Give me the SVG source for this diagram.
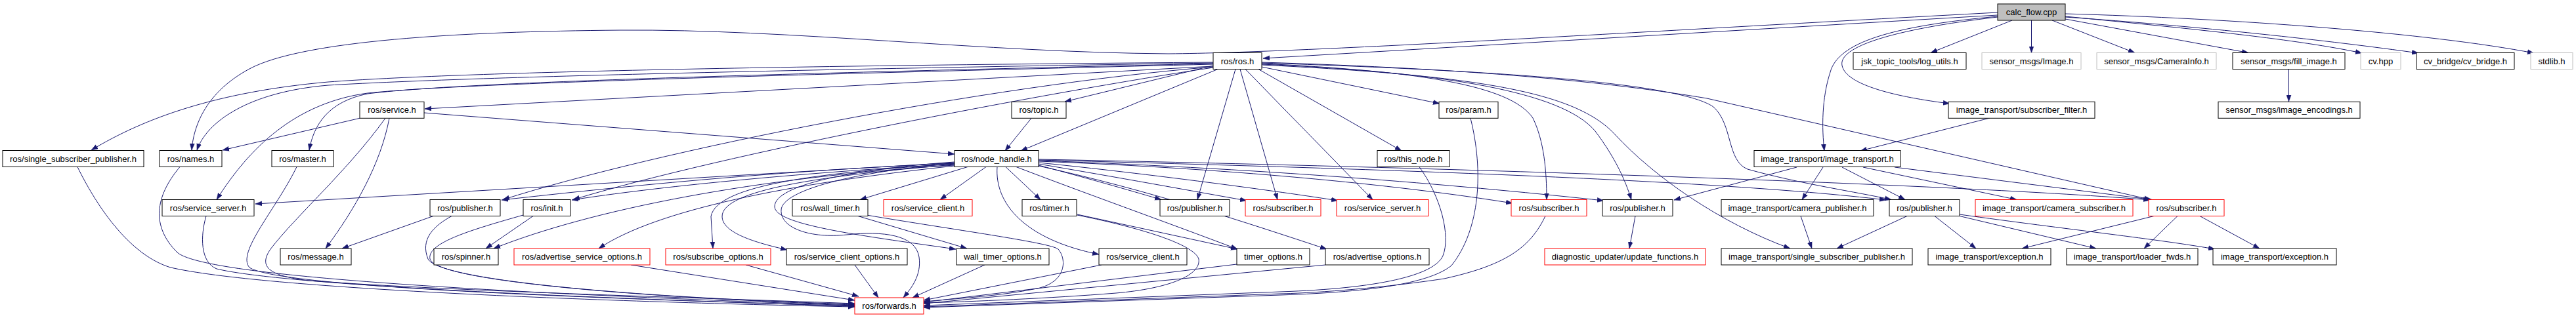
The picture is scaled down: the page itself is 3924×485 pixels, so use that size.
<svg xmlns="http://www.w3.org/2000/svg" width="3924" height="485" viewBox="0 0 3924 485">
<style>
.n rect{fill:#fff;stroke:#000;stroke-width:1}
.n.r rect{stroke:#ff0000}
.n.g rect{stroke:#bfbfbf}
.n.root rect{fill:#bfbfbf}
.n text{font-family:"Liberation Sans",Arial,sans-serif;font-size:13px;text-anchor:middle;fill:#000}
#edges path{fill:none;stroke:#191970;stroke-width:1;marker-end:url(#a)}
</style>
<defs>
<marker id="a" markerUnits="userSpaceOnUse" markerWidth="10" markerHeight="8" viewBox="0 0 10 7" refX="10" refY="3.5" orient="auto">
<path d="M0,0 L10,3.5 L0,7 z" fill="#191970" stroke="#191970" stroke-width="0.5"/>
</marker>
</defs>
<rect width="3924" height="485" fill="#fff"/>
<g id="edges">
<path d="M3043,23 L1924,89"/>
<path d="M3043,19 C2500,48 2000,80 1780,82 C1500,80 1200,44 945,46 C700,48 460,62 380,105 C315,140 295,190 292,229"/>
<path d="M3043,25 C2880,40 2800,65 2788,110 C2775,150 2775,195 2779,230"/>
<path d="M3043,26 C2880,45 2800,72 2806,100 C2812,130 2890,148 2970,158"/>
<path d="M3065,31 L2941,80.5"/>
<path d="M3094.5,31 L3094.5,80.5"/>
<path d="M3126,31 L3252,80.5"/>
<path d="M3146,29 L3425,80.5"/>
<path d="M3146,25 C3350,45 3500,60 3598,81"/>
<path d="M3146,26 C3350,40 3550,62 3684,81"/>
<path d="M3146,21 C3400,28 3700,50 3860,81"/>
<path d="M3486.5,105.5 L3486.5,155"/>
<path d="M3031,180 L2834,230"/>
<path d="M2777,255 L2745,304.5"/>
<path d="M2806,255 L2902,304.5"/>
<path d="M2838,255 L3072,304.5"/>
<path d="M2886,255 L3278,304.5"/>
<path d="M2737,255 L2550,305"/>
<path d="M2905,329.5 L2798,379"/>
<path d="M2947,329.5 L3010,379"/>
<path d="M2985,329.5 L3193,379"/>
<path d="M2985,327 C3150,350 3290,365 3374,380"/>
<path d="M2743,329.5 L2760,379"/>
<path d="M3281,329.5 L3080,379"/>
<path d="M3317,329.5 L3266,379"/>
<path d="M3351,329.5 L3442,379"/>
<path d="M2491,329.5 L2482,379"/>
<path d="M1848,100 L1622,155"/>
<path d="M1855,105.5 L1555,230"/>
<path d="M1848,101 L647,166"/>
<path d="M1848,103 C1600,140 1100,235 873,304.5"/>
<path d="M1848,102 C1500,130 1000,230 766,304.5"/>
<path d="M1848,97 C1200,112 700,125 560,143 C500,155 478,190 471,229"/>
<path d="M1848,96 C1200,106 700,118 500,130 C380,140 315,185 300,229"/>
<path d="M1848,95 C1200,100 700,110 500,125 C330,140 220,180 139,229"/>
<path d="M1848,98 C1200,114 700,127 560,142 C450,157 380,225 330,304.5"/>
<path d="M1882,105.5 L1824,304.5"/>
<path d="M1889,105.5 L1946,304.5"/>
<path d="M1897,105.5 L2091,304.5"/>
<path d="M1917,105.5 L2135,230"/>
<path d="M1922,102 L2193,158"/>
<path d="M1922,97 C2150,108 2300,128 2335,180 C2352,215 2356,260 2356,304.5"/>
<path d="M1922,98 C2200,110 2380,140 2430,200 C2460,240 2476,275 2485,304.5"/>
<path d="M1922,99 C2250,115 2400,140 2460,205 C2520,270 2620,340 2727,379"/>
<path d="M1922,96 C2300,108 2560,128 2610,163 C2640,190 2630,245 2662,258 C2740,280 2830,293 2881,304.5"/>
<path d="M1922,95 C2250,105 2450,125 2600,150 L3276,304.5"/>
<path d="M1582,252 C1650,270 1720,290 1769,304.5"/>
<path d="M1582,250 C1700,270 1820,292 1899,306"/>
<path d="M1582,248 C1750,265 1950,292 2038,306"/>
<path d="M1582,246 C1900,258 2150,285 2304,310"/>
<path d="M1582,245 C1950,258 2250,285 2443,306"/>
<path d="M1582,244 C2000,255 2600,272 2873,305"/>
<path d="M1582,243 C2200,255 3000,282 3275,305"/>
<path d="M1582,253 C1750,290 1900,340 2021,380"/>
<path d="M1548,254.5 C1640,290 1780,340 1885,380"/>
<path d="M1519,254.5 C1515,310 1560,365 1674,388"/>
<path d="M1532,254.5 L1585,304.5"/>
<path d="M1502,254.5 L1432,304.5"/>
<path d="M1474,254.5 L1310,304.5"/>
<path d="M1454,247 C1300,258 1180,282 1180,315 C1180,342 1300,358 1456,380"/>
<path d="M1454,249 C1300,262 1192,290 1190,320 C1188,348 1235,364 1290,358 C1345,352 1395,358 1400,392 C1404,420 1388,440 1376,454"/>
<path d="M1454,251 C1250,268 1100,290 1100,330 C1100,355 1150,370 1199,381"/>
<path d="M1454,250 C1250,263 1092,282 1083,330 L1086,379"/>
<path d="M1454,253 C1200,280 1000,320 912,379"/>
<path d="M1454,252 C1150,270 900,320 752,379"/>
<path d="M1454,250 C1200,265 1000,285 871,305"/>
<path d="M1454,249 C1150,262 900,290 764,305"/>
<path d="M1454,248 L389,311"/>
<path d="M1571,180.3 L1531,230"/>
<path d="M646,172 L1454,235"/>
<path d="M548,180.3 L339,229"/>
<path d="M593,180.3 C580,250 540,320 496,379"/>
<path d="M587,180.3 C530,260 450,330 412,380 C395,405 405,420 470,428 C700,445 1100,455 1302,463"/>
<path d="M660,329.5 L521,379"/>
<path d="M688,329.5 C660,345 640,365 652,395 C670,430 1000,455 1302,464"/>
<path d="M812,329.5 L740,379"/>
<path d="M797,328 C720,350 650,370 655,395 C665,430 1000,455 1302,465"/>
<path d="M274,254.5 C236,300 230,345 270,385 C310,420 700,445 1302,466"/>
<path d="M452,254.5 C420,320 360,385 380,408 C420,435 800,452 1302,467"/>
<path d="M118,254.5 C150,320 200,390 260,408 C400,440 900,460 1302,468"/>
<path d="M314,329.5 C305,360 305,400 330,410 C420,432 800,452 1302,467"/>
<path d="M961,404 L1302,458"/>
<path d="M1136,404 L1308,452"/>
<path d="M1302,404 L1338,454"/>
<path d="M1500,404 L1390,454"/>
<path d="M1307,329.5 L1473,379"/>
<path d="M1320,328 C1450,350 1600,370 1612,380 C1625,395 1625,430 1580,440 C1520,452 1460,455 1407,460"/>
<path d="M1678,404 L1407,458"/>
<path d="M1641,327 L1885,380"/>
<path d="M1641,328 C1750,350 1820,375 1826,395 C1830,420 1780,440 1700,447 C1600,455 1480,460 1407,462"/>
<path d="M1884,403 L1407,461"/>
<path d="M2019,404 L1407,463"/>
<path d="M2162,254.5 C2195,300 2210,360 2198,390 C2185,420 2100,440 1950,445 L1407,466"/>
<path d="M2240,180.3 C2260,260 2255,350 2211,405 C2180,430 2100,445 1950,450 L1407,469"/>
<path d="M2354,329.5 C2330,380 2290,405 2200,425 C2100,440 2000,447 1950,448 L1407,468"/>
</g>
<g id="n0" class="n root"><rect x="3043" y="6" width="103" height="25"/><text x="3094.5" y="23">calc_flow.cpp</text></g>
<g id="n1" class="n"><rect x="1848" y="80.5" width="74" height="25"/><text x="1885" y="97.5">ros/ros.h</text></g>
<g id="n2" class="n"><rect x="2823" y="80.5" width="172" height="25"/><text x="2909" y="97.5">jsk_topic_tools/log_utils.h</text></g>
<g id="n3" class="n g"><rect x="3019" y="80.5" width="151" height="25"/><text x="3094.5" y="97.5">sensor_msgs/Image.h</text></g>
<g id="n4" class="n g"><rect x="3194" y="80.5" width="182" height="25"/><text x="3285" y="97.5">sensor_msgs/CameraInfo.h</text></g>
<g id="n5" class="n"><rect x="3401" y="80.5" width="171" height="25"/><text x="3486.5" y="97.5">sensor_msgs/fill_image.h</text></g>
<g id="n6" class="n g"><rect x="3596" y="80.5" width="61" height="25"/><text x="3626.5" y="97.5">cv.hpp</text></g>
<g id="n7" class="n"><rect x="3681" y="80.5" width="149" height="25"/><text x="3755.5" y="97.5">cv_bridge/cv_bridge.h</text></g>
<g id="n8" class="n g"><rect x="3855" y="80.5" width="64" height="25"/><text x="3887" y="97.5">stdlib.h</text></g>
<g id="n9" class="n"><rect x="548" y="155.3" width="98" height="25"/><text x="597" y="172.3">ros/service.h</text></g>
<g id="n10" class="n"><rect x="1541" y="155.3" width="83" height="25"/><text x="1582.5" y="172.3">ros/topic.h</text></g>
<g id="n11" class="n"><rect x="2192" y="155.3" width="90" height="25"/><text x="2237" y="172.3">ros/param.h</text></g>
<g id="n12" class="n"><rect x="2968" y="155.3" width="223" height="25"/><text x="3079.5" y="172.3">image_transport/subscriber_filter.h</text></g>
<g id="n13" class="n"><rect x="3379" y="155.3" width="216" height="25"/><text x="3487" y="172.3">sensor_msgs/image_encodings.h</text></g>
<g id="n14" class="n"><rect x="4" y="229.5" width="215" height="25"/><text x="111.5" y="246.5">ros/single_subscriber_publisher.h</text></g>
<g id="n15" class="n"><rect x="243" y="229.5" width="95" height="25"/><text x="290.5" y="246.5">ros/names.h</text></g>
<g id="n16" class="n"><rect x="414" y="229.5" width="94" height="25"/><text x="461" y="246.5">ros/master.h</text></g>
<g id="n17" class="n"><rect x="1454" y="229.5" width="128" height="25"/><text x="1518" y="246.5">ros/node_handle.h</text></g>
<g id="n18" class="n"><rect x="2098" y="229.5" width="110" height="25"/><text x="2153" y="246.5">ros/this_node.h</text></g>
<g id="n19" class="n"><rect x="2672" y="229.5" width="223" height="25"/><text x="2783.5" y="246.5">image_transport/image_transport.h</text></g>
<g id="n20" class="n"><rect x="247" y="304.5" width="140" height="25"/><text x="317" y="321.5">ros/service_server.h</text></g>
<g id="n21" class="n"><rect x="655" y="304.5" width="107" height="25"/><text x="708.5" y="321.5">ros/publisher.h</text></g>
<g id="n22" class="n"><rect x="797" y="304.5" width="72" height="25"/><text x="833" y="321.5">ros/init.h</text></g>
<g id="n23" class="n"><rect x="1207" y="304.5" width="115" height="25"/><text x="1264.5" y="321.5">ros/wall_timer.h</text></g>
<g id="n24" class="n r"><rect x="1346" y="304.5" width="135" height="25"/><text x="1413.5" y="321.5">ros/service_client.h</text></g>
<g id="n25" class="n"><rect x="1557" y="304.5" width="83" height="25"/><text x="1598.5" y="321.5">ros/timer.h</text></g>
<g id="n26" class="n"><rect x="1767" y="304.5" width="106" height="25"/><text x="1820" y="321.5">ros/publisher.h</text></g>
<g id="n27" class="n r"><rect x="1897" y="304.5" width="115" height="25"/><text x="1954.5" y="321.5">ros/subscriber.h</text></g>
<g id="n28" class="n r"><rect x="2036" y="304.5" width="140" height="25"/><text x="2106" y="321.5">ros/service_server.h</text></g>
<g id="n29" class="n r"><rect x="2302" y="304.5" width="115" height="25"/><text x="2359.5" y="321.5">ros/subscriber.h</text></g>
<g id="n30" class="n"><rect x="2441" y="304.5" width="107" height="25"/><text x="2494.5" y="321.5">ros/publisher.h</text></g>
<g id="n31" class="n"><rect x="2622" y="304.5" width="232" height="25"/><text x="2738" y="321.5">image_transport/camera_publisher.h</text></g>
<g id="n32" class="n"><rect x="2878" y="304.5" width="107" height="25"/><text x="2931.5" y="321.5">ros/publisher.h</text></g>
<g id="n33" class="n r"><rect x="3009" y="304.5" width="240" height="25"/><text x="3129" y="321.5">image_transport/camera_subscriber.h</text></g>
<g id="n34" class="n r"><rect x="3273" y="304.5" width="115" height="25"/><text x="3330.5" y="321.5">ros/subscriber.h</text></g>
<g id="n35" class="n"><rect x="427" y="379" width="108" height="25"/><text x="481" y="396">ros/message.h</text></g>
<g id="n36" class="n"><rect x="661" y="379" width="98" height="25"/><text x="710" y="396">ros/spinner.h</text></g>
<g id="n37" class="n r"><rect x="783" y="379" width="207" height="25"/><text x="886.5" y="396">ros/advertise_service_options.h</text></g>
<g id="n38" class="n r"><rect x="1014" y="379" width="160" height="25"/><text x="1094" y="396">ros/subscribe_options.h</text></g>
<g id="n39" class="n"><rect x="1198" y="379" width="184" height="25"/><text x="1290" y="396">ros/service_client_options.h</text></g>
<g id="n40" class="n"><rect x="1457" y="379" width="141" height="25"/><text x="1527.5" y="396">wall_timer_options.h</text></g>
<g id="n41" class="n"><rect x="1674" y="379" width="134" height="25"/><text x="1741" y="396">ros/service_client.h</text></g>
<g id="n42" class="n"><rect x="1884" y="379" width="111" height="25"/><text x="1939.5" y="396">timer_options.h</text></g>
<g id="n43" class="n"><rect x="2019" y="379" width="158" height="25"/><text x="2098" y="396">ros/advertise_options.h</text></g>
<g id="n44" class="n r"><rect x="2353" y="379" width="245" height="25"/><text x="2475.5" y="396">diagnostic_updater/update_functions.h</text></g>
<g id="n45" class="n"><rect x="2622" y="379" width="291" height="25"/><text x="2767.5" y="396">image_transport/single_subscriber_publisher.h</text></g>
<g id="n46" class="n"><rect x="2937" y="379" width="187" height="25"/><text x="3030.5" y="396">image_transport/exception.h</text></g>
<g id="n47" class="n"><rect x="3148" y="379" width="200" height="25"/><text x="3248" y="396">image_transport/loader_fwds.h</text></g>
<g id="n48" class="n"><rect x="3371" y="379" width="188" height="25"/><text x="3465" y="396">image_transport/exception.h</text></g>
<g id="n49" class="n r"><rect x="1302" y="454" width="105" height="25"/><text x="1354.5" y="471">ros/forwards.h</text></g>
</svg>
